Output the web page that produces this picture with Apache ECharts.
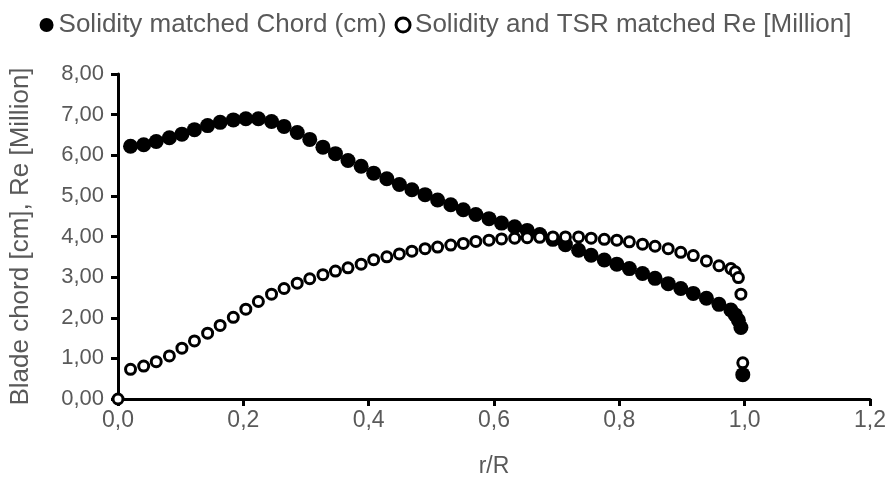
<!DOCTYPE html>
<html>
<head>
<meta charset="utf-8">
<script src="https://cdn.jsdelivr.net/npm/echarts@6/dist/echarts.min.js"></script>
<style>
  html, body { margin: 0; padding: 0; background: #fff; }
  #chart { width: 891px; height: 480px; }
</style>
</head>
<body>
<div id="chart"></div>
<script>
// r/R stations (shared by both series)
const rR = [
  0.020, 0.041, 0.061, 0.082, 0.102, 0.122, 0.143, 0.163, 0.184, 0.204,
  0.224, 0.245, 0.265, 0.286, 0.306, 0.327, 0.347, 0.367, 0.388, 0.408,
  0.429, 0.449, 0.469, 0.490, 0.510, 0.531, 0.551, 0.571, 0.592, 0.612,
  0.633, 0.653, 0.673, 0.694, 0.714, 0.735, 0.755, 0.776, 0.796, 0.816,
  0.837, 0.857, 0.878, 0.898, 0.918, 0.939, 0.959, 0.978, 0.985, 0.990,
  0.994, 0.997
];

// Solidity matched Chord (cm)
const chord = [
  6.22, 6.26, 6.34, 6.43, 6.52, 6.63, 6.73, 6.81, 6.87, 6.90,
  6.90, 6.83, 6.71, 6.56, 6.39, 6.20, 6.04, 5.87, 5.73, 5.56,
  5.42, 5.28, 5.15, 5.03, 4.90, 4.78, 4.66, 4.54, 4.44, 4.33,
  4.24, 4.15, 4.05, 3.93, 3.80, 3.66, 3.54, 3.42, 3.32, 3.21,
  3.09, 2.97, 2.84, 2.72, 2.60, 2.48, 2.33, 2.19, 2.07, 1.94,
  1.76, 0.60
];

// Solidity and TSR matched Re [Million]
const reynolds = [
  0.73, 0.81, 0.92, 1.06, 1.25, 1.43, 1.62, 1.81, 2.01, 2.21,
  2.40, 2.58, 2.72, 2.85, 2.96, 3.06, 3.15, 3.23, 3.32, 3.43,
  3.50, 3.57, 3.64, 3.70, 3.74, 3.79, 3.83, 3.88, 3.91, 3.94,
  3.96, 3.97, 3.98, 3.99, 3.99, 3.99, 3.96, 3.93, 3.91, 3.87,
  3.81, 3.76, 3.70, 3.61, 3.53, 3.40, 3.28, 3.21, 3.13, 2.99,
  2.58, 0.89
];

// hub point plotted only for the Re series
const hubPoint = [0, 0];

const seriesNames = ['Solidity matched Chord (cm)', 'Solidity and TSR matched Re [Million]'];

const textColor = '#595959';
const fontFamily = '"Liberation Sans", Arial, sans-serif';

const chart = echarts.init(document.getElementById('chart'));

const fmtComma = (v, digits) => v.toFixed(digits).replace('.', ',');

const option = {
  backgroundColor: '#fff',
  animation: false,
  textStyle: { fontFamily },
  legend: {
    top: 7,
    left: 'center',
    itemGap: 8,
    itemWidth: 14,
    itemHeight: 14,
    textStyle: { color: textColor, fontSize: 26, fontFamily },
    data: [
      { name: seriesNames[0], icon: 'circle', itemStyle: { color: '#000' } },
      { name: seriesNames[1], icon: 'circle', itemStyle: { color: '#fff', borderColor: '#000', borderWidth: 3 } }
    ]
  },
  grid: {
    left: 118,
    right: 21,
    top: 74,
    bottom: 81,
    outerBoundsMode: 'none'
  },
  xAxis: {
    type: 'value',
    min: 0,
    max: 1.2,
    interval: 0.2,
    name: 'r/R',
    nameLocation: 'middle',
    nameGap: 56,
    nameTextStyle: { color: textColor, fontSize: 23, fontFamily },
    axisLine: { show: true, lineStyle: { color: '#000', width: 3 } },
    axisTick: { show: true, length: 7, lineStyle: { color: '#000', width: 3 } },
    axisLabel: {
      color: textColor,
      fontSize: 23,
      margin: 10,
      formatter: v => fmtComma(v, 1)
    },
    splitLine: { show: false }
  },
  yAxis: {
    type: 'value',
    min: 0,
    max: 8,
    interval: 1,
    name: 'Blade chord [cm], Re [Million]',
    nameLocation: 'middle',
    nameGap: 84,
    nameTextStyle: { color: textColor, fontSize: 26, fontFamily },
    axisLine: { show: true, lineStyle: { color: '#000', width: 3 } },
    axisTick: { show: true, length: 7, lineStyle: { color: '#000', width: 3 } },
    axisLabel: {
      color: textColor,
      fontSize: 22,
      margin: 14,
      formatter: v => fmtComma(v, 2)
    },
    splitLine: { show: false }
  },
  series: [
    {
      name: seriesNames[0],
      type: 'scatter',
      symbol: 'circle',
      symbolSize: 15,
      itemStyle: { color: '#000', opacity: 1 },
      data: rR.map((r, i) => [r, chord[i]]),
      z: 2
    },
    {
      name: seriesNames[1],
      type: 'scatter',
      symbol: 'circle',
      symbolSize: 10,
      itemStyle: { color: '#fff', borderColor: '#000', borderWidth: 3, opacity: 1 },
      data: [hubPoint].concat(rR.map((r, i) => [r, reynolds[i]])),
      z: 3
    }
  ]
};

chart.setOption(option);
</script>
</body>
</html>
